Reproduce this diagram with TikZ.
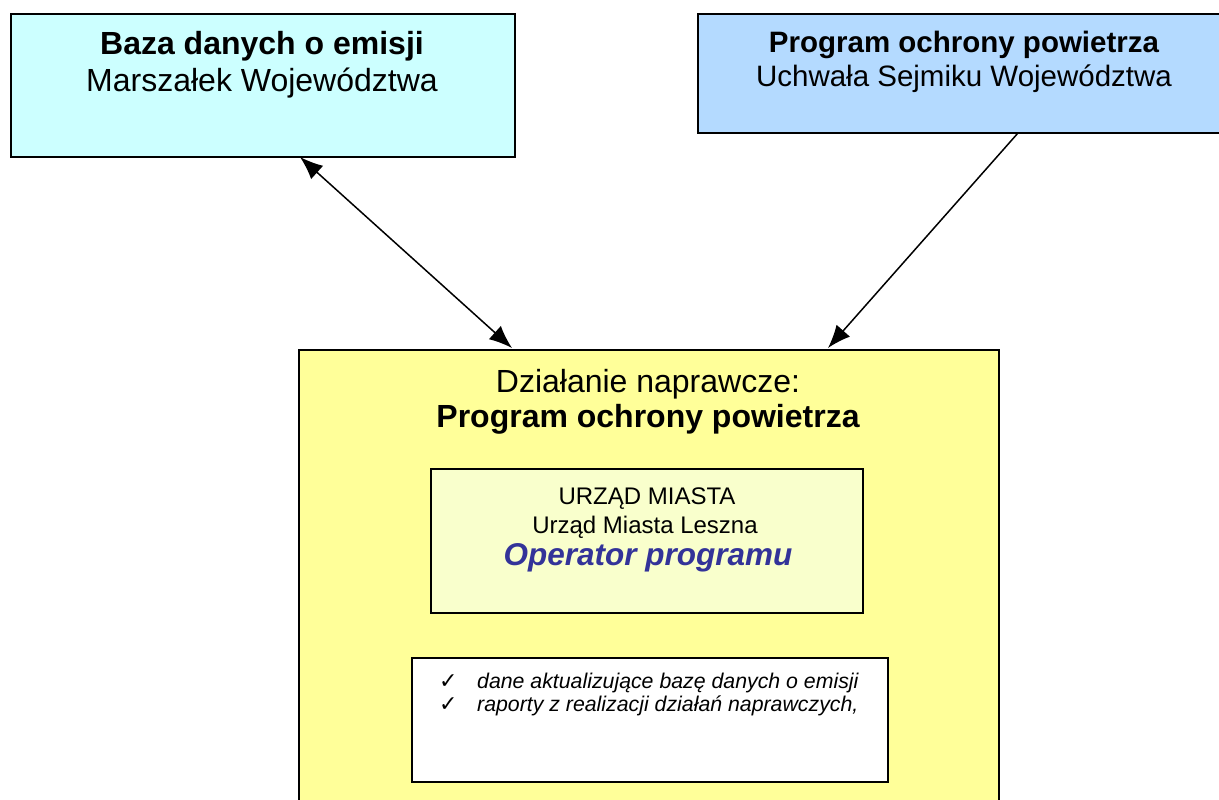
\documentclass[tikz,border=0pt]{standalone}
\usepackage{fontspec}
\setmainfont{Liberation Sans}
\newfontfamily\symfont{DejaVu Sans}
\usetikzlibrary{arrows.meta}
\definecolor{cyanbox}{RGB}{204,255,255}
\definecolor{bluebox}{RGB}{180,218,255}
\definecolor{yellowbox}{RGB}{255,255,153}
\definecolor{paleyellow}{RGB}{249,255,204}
\definecolor{opblue}{RGB}{51,51,153}
\tikzset{
  box/.style={draw=black, line width=1.8pt, anchor=north west, inner sep=0pt, rectangle},
  txt/.style={inner sep=0pt, anchor=base},
  ltxt/.style={inner sep=0pt, anchor=base west},
  conn/.style={line width=1.5pt, black}
}
\begin{document}
\begin{tikzpicture}[x=1pt,y=-1pt,>={Latex[length=23pt,width=18pt]}]
\useasboundingbox (0,0) rectangle (1219,800);
% boxes
\node[box, fill=cyanbox, minimum width=504pt, minimum height=143pt] (b1) at (10,13) {};
\node[box, fill=bluebox, minimum width=530pt, minimum height=119pt] (b2) at (697,13) {};
\node[box, fill=yellowbox, minimum width=700pt, minimum height=470pt] (b3) at (298,349) {};
\node[box, fill=paleyellow, minimum width=432pt, minimum height=144pt] (b4) at (430,468) {};
\node[box, fill=white, minimum width=476pt, minimum height=124pt] (b5) at (411,657) {};
% texts box 1
\node[txt, font=\fontsize{32}{36}\selectfont\bfseries] (t11) at (262,55) {Baza danych o emisji};
\node[txt, font=\fontsize{32}{36}\selectfont] (t12) at (262,92) {Marszałek Województwa};
% texts box 2
\node[txt, font=\fontsize{29.5}{33}\selectfont\bfseries] (t21) at (964,53) {Program ochrony powietrza};
\node[txt, font=\fontsize{29.5}{33}\selectfont] (t22) at (964,86) {Uchwała Sejmiku Województwa};
% texts box 3
\node[txt, font=\fontsize{32}{36}\selectfont] (t31) at (648,392) {Działanie naprawcze:};
\node[txt, font=\fontsize{32}{36}\selectfont\bfseries] (t32) at (648,427) {Program ochrony powietrza};
% texts box 4
\node[txt, font=\fontsize{24}{28}\selectfont] (t41) at (647,504) {URZĄD MIASTA};
\node[txt, font=\fontsize{24}{28}\selectfont] (t42) at (645,533) {Urząd Miasta Leszna};
\node[txt, font=\fontsize{31.5}{36}\selectfont\bfseries\itshape, text=opblue] (t43) at (648,565) {Operator programu};
% texts box 5
\node[ltxt, font=\fontsize{22}{22}\selectfont\symfont] (c1) at (439,688) {✓};
\node[ltxt, font=\fontsize{21.3}{23}\selectfont\itshape] (t51) at (477,688) {dane aktualizujące bazę danych o emisji};
\node[ltxt, font=\fontsize{22}{22}\selectfont\symfont] (c2) at (439,711) {✓};
\node[ltxt, font=\fontsize{21.3}{23}\selectfont\itshape] (t52) at (477,711) {raporty z realizacji działań naprawczych,};
% connector end points on box edges
\coordinate (p1) at (300,157);
\coordinate (q1) at (512,348);
\coordinate (p2) at (1018,133);
\coordinate (q2) at (828,348);
\draw[conn, <->] (p1) -- (q1);
\draw[conn, ->] (p2) -- (q2);
\end{tikzpicture}
\end{document}
